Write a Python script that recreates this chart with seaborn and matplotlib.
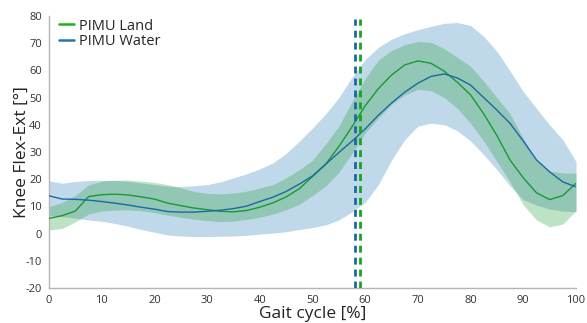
import numpy as np
import pandas as pd
import matplotlib
matplotlib.use("Agg")
import matplotlib.pyplot as plt
import seaborn as sns

# ---- data ----
gait = [0, 2.5, 5, 7.5, 10, 12.5, 15, 17.5, 20, 22.5, 25, 27.5, 30, 32.5, 35, 37.5,
        40, 42.5, 45, 47.5, 50, 52.5, 55, 57.5, 60, 62.5, 65, 67.5, 70, 72.5, 75,
        77.5, 80, 82.5, 85, 87.5, 90, 92.5, 95, 97.5, 100]

land_mean = [5.6, 6.6, 8.3, 13.6, 14.3, 14.5, 14.2, 13.5, 12.7, 11.2, 10.3, 9.4, 8.8, 8.2,
             8.0, 8.5, 9.7, 11.3, 13.5, 16.5, 21.0, 25.5, 32.0, 39.3, 47.0, 53.3, 58.3,
             62.0, 63.5, 62.6, 59.7, 55.6, 51.0, 44.0, 36.0, 27.0, 20.5, 15.0, 12.5, 14.0, 18.5]
land_upper = [9.9, 11.5, 14.0, 17.9, 19.3, 19.6, 19.7, 19.3, 18.8, 18.0, 16.8, 15.5, 14.8,
              14.6, 14.9, 15.6, 16.8, 18.0, 20.5, 23.5, 27.0, 33.0, 39.5, 48.5, 57.0, 63.8,
              67.3, 69.5, 70.6, 70.3, 68.0, 64.8, 61.5, 56.0, 50.0, 44.0, 35.0, 27.0, 23.0,
              22.3, 22.2]
land_lower = [1.3, 1.9, 4.3, 7.2, 8.3, 8.6, 8.7, 8.4, 7.7, 6.8, 6.0, 5.3, 4.8, 4.4, 4.6,
              5.2, 6.0, 7.2, 8.8, 10.8, 14.0, 17.5, 22.5, 29.5, 37.0, 42.5, 47.5, 51.0,
              53.0, 52.5, 50.0, 46.0, 40.5, 34.0, 26.5, 19.0, 10.5, 5.0, 2.5, 3.5, 8.5]

water_mean = [13.9, 12.7, 12.6, 12.3, 11.8, 11.2, 10.5, 9.7, 9.0, 8.1, 7.9, 7.9, 8.2, 8.6,
              9.2, 10.1, 11.8, 13.4, 15.5, 18.2, 21.2, 25.5, 29.8, 34.0, 38.5, 43.5, 48.0,
              52.0, 55.3, 57.8, 58.7, 57.2, 54.6, 50.0, 45.4, 40.5, 34.0, 27.1, 22.7, 19.0, 17.2]
water_upper = [19.4, 18.5, 19.2, 19.5, 19.6, 19.6, 19.2, 18.6, 18.0, 17.4, 17.3, 17.6, 18.0,
               19.0, 20.5, 22.0, 23.8, 26.0, 29.5, 34.0, 38.8, 44.0, 50.0, 57.5, 64.0, 68.5,
               71.5, 73.5, 75.0, 76.2, 77.3, 77.6, 76.5, 72.5, 67.0, 59.8, 52.2, 46.0, 40.0,
               34.5, 26.5]
water_lower = [6.8, 6.2, 5.7, 5.0, 4.5, 3.7, 2.7, 1.5, 0.5, -0.5, -0.9, -1.1, -1.1, -1.0,
               -0.9, -0.6, -0.2, 0.2, 0.7, 1.5, 2.2, 3.2, 5.0, 8.0, 11.5, 18.0, 27.0, 34.5,
               39.5, 40.6, 40.0, 37.8, 34.0, 29.0, 23.5, 17.5, 12.5, 10.5, 9.0, 8.3, 8.0]

toe_off_water = 58.1
toe_off_land = 59.1

series_names = ["PIMU Land", "PIMU Water"]
xticks = list(range(0, 101, 10))
yticks = list(range(-20, 81, 10))

# ---- styling ----
GREEN = "#169b34"
BLUE = "#1b68a6"
BAND_GREEN = "#2aa03c"
BAND_BLUE = "#1f77b4"

sns.set_style("white")
plt.rcParams["font.family"] = ["Open Sans", "DejaVu Sans"]
plt.rcParams["axes.unicode_minus"] = False

fig = plt.figure(figsize=(5.87, 3.23), dpi=100)
ax = fig.add_axes([49 / 587, 1 - 288 / 323, (576 - 49) / 587, (288 - 16) / 323])

df = pd.DataFrame({
    "gait": gait * 2,
    "angle": land_mean + water_mean,
    "group": [series_names[0]] * len(gait) + [series_names[1]] * len(gait),
})

ax.fill_between(gait, water_lower, water_upper, color=BAND_BLUE, alpha=0.28,
                linewidth=0, zorder=1)
ax.fill_between(gait, land_lower, land_upper, color=BAND_GREEN, alpha=0.3,
                linewidth=0, zorder=2)

sns.lineplot(data=df, x="gait", y="angle", hue="group",
             palette={series_names[0]: GREEN, series_names[1]: BLUE},
             linewidth=1.0, ax=ax, zorder=3, legend=True)

ax.plot([toe_off_water, toe_off_water], [-20, 79], color=BLUE, lw=2.0,
        dashes=(2.5, 1.8), zorder=4)
ax.plot([toe_off_land, toe_off_land], [-20, 79], color="#1aa51a", lw=2.0,
        dashes=(2.5, 1.8), zorder=4)

ax.set_xlim(0, 100)
ax.set_ylim(-20, 80)
ax.set_xticks(xticks)
ax.set_yticks(yticks)
ax.set_xlabel("Gait cycle [%]", fontsize=12.5, color="#222222", labelpad=0)
ax.set_ylabel("Knee Flex-Ext [°]", fontsize=12.5, color="#222222")
ax.yaxis.set_label_coords(-0.036, 0.5)

for side in ["top", "right"]:
    ax.spines[side].set_visible(False)
for side in ["left", "bottom"]:
    ax.spines[side].set_color("#b5b5b5")
    ax.spines[side].set_linewidth(1.0)
ax.tick_params(axis="both", which="major", direction="out", length=4, width=0.8,
               color="#b5b5b5", labelsize=8, labelcolor="#333333", pad=1)

leg = ax.legend(loc="upper left", frameon=False, fontsize=10.5, handlelength=1.0,
                handletextpad=0.4, borderaxespad=0.0, labelspacing=0.05,
                bbox_to_anchor=(0.008, 1.012))
for line, c in zip(leg.get_lines(), ["#1fb01f", "#2a72b0"]):
    line.set_color(c)
    line.set_linewidth(1.8)

fig.savefig("out.png", dpi=100)
